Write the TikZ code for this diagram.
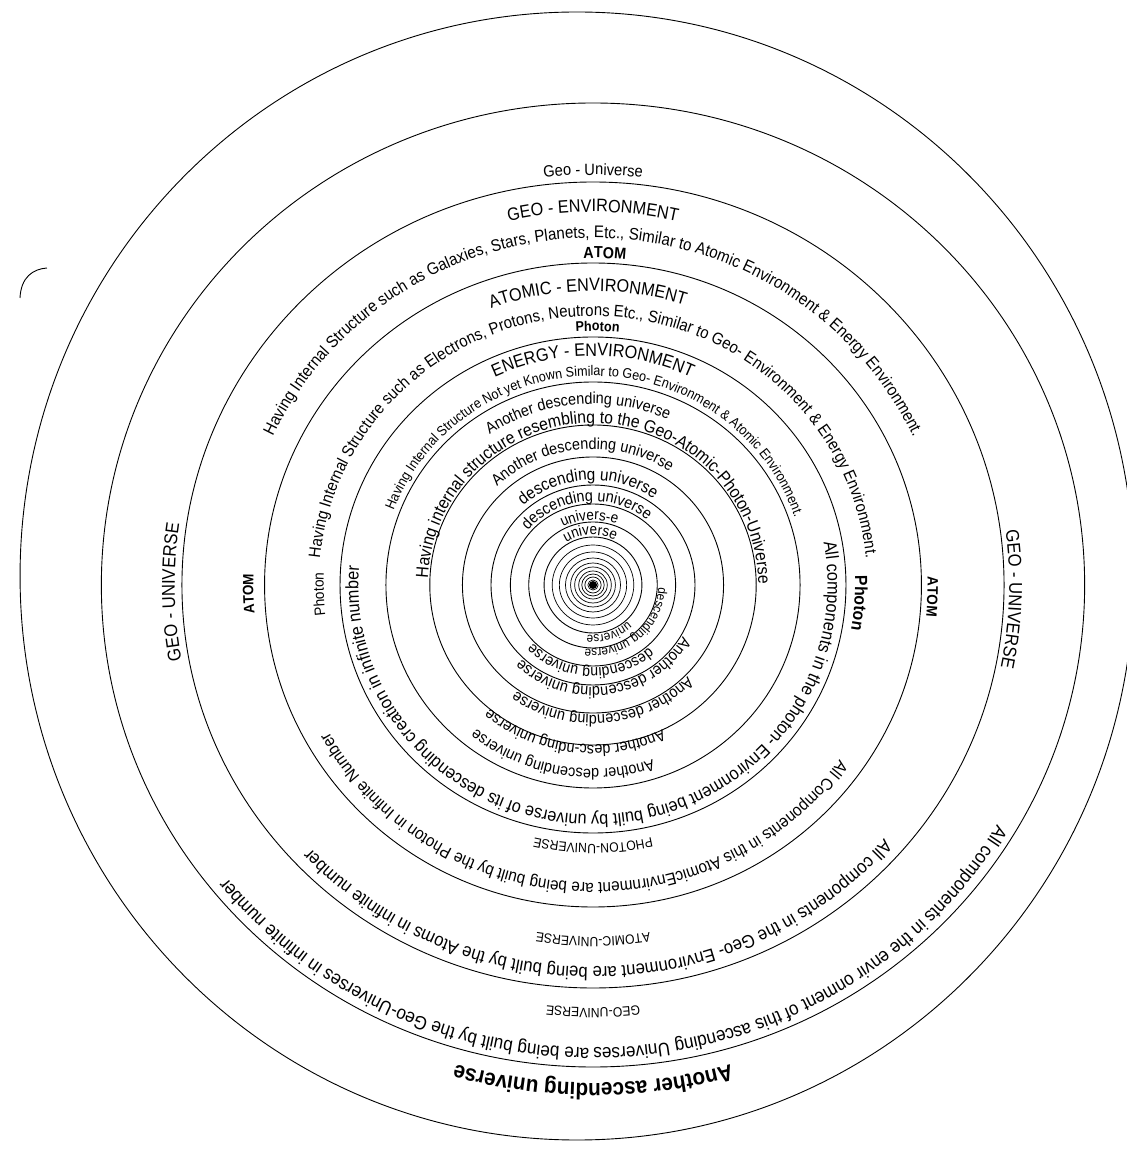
\documentclass[tikz,border=0pt]{standalone}
\usepackage{fontspec}
\setmainfont{Liberation Sans}
\newfontfamily\fr{Liberation Sans}
\newfontfamily\fa[FakeStretch=0.9]{Liberation Sans}
\newfontfamily\fn[FakeStretch=0.8]{Liberation Sans}
\newfontfamily\fb[FakeStretch=0.9]{Liberation Sans Bold}
\usetikzlibrary{decorations.text}
% #1 baseline radius, #2 centre angle, #3 font, #4 size, #5 text
\newcommand\arctext[5]{%
  \path[decorate,decoration={text along path,text align=center,
      text={|#3\fontsize{#4}{#4}\selectfont|#5}}]
    ({#2+175}:#1) arc[start angle={#2+175},end angle={#2-175},radius=#1];}
\begin{document}
\begin{tikzpicture}[x=1pt,y=1pt,line width=0.9pt]
\useasboundingbox[fill=white] (-593,-565) rectangle (533,585);
% small hook mark at the upper left
\coordinate (hookA) at (-546,317);
\coordinate (hookB) at (-573,287);
\draw (hookA) .. controls (-560,316) and (-572,308) .. (hookB);
\begin{scope}[xscale=1.02]
% rings
\draw (-15.7,9) ellipse[x radius=546,y radius=564];
\foreach \r in {482,403,322,248,203,160,128,100,81,63,48}
  \draw (0,0) circle[radius=\r];
\foreach \r in {40,33,27,22,18,14,11,8,5}
  \draw[line width=0.7pt] (0,0) circle[radius=\r];
\fill (0,0) circle[radius=4];
% ---- top band texts
\arctext{410}{90}{\fa}{16.3}{Geo - Universe}
\arctext{373}{90}{\fa}{18}{GEO - ENVIRONMENT}
\arctext{347}{90}{\fa}{16.8}{Having Internal Structure such as Galaxies, Stars, Planets, Etc., Similar to Atomic Environment {\&} Energy Environment.}
\arctext{327}{88}{\fb}{16}{ATOM}
\arctext{294}{91}{\fa}{18}{ATOMIC - ENVIRONMENT}
\arctext{269}{90}{\fa}{16.6}{Having Internal Structure such as Electrons, Protons, Neutrons Etc., Similar to Geo- Environment {\&} Energy Environment.}
\arctext{254}{89}{\fb}{14}{Photon}
\arctext{229}{90}{\fa}{18}{ENERGY - ENVIRONMENT}
\arctext{209}{89}{\fa}{14}{Having Internal Structure Not yet Known  Similar to Geo- Environment {\&} Atomic Environment.}
\arctext{181}{95}{\fa}{16}{Another descending universe}
\arctext{162}{89}{\fa}{17.5}{Having internal structure resembling to the Geo-Atomic-Photon-Universe}
\arctext{136}{95}{\fa}{16}{Another descending universe}
\arctext{105}{93}{\fa}{17}{descending universe}
\arctext{84}{95}{\fa}{16}{descending universe}
\arctext{65}{93}{\fa}{15}{univers-e}
\arctext{50}{93}{\fa}{15}{universe}
% ---- side labels
\arctext{410}{181}{\fa}{18.5}{GEO - UNIVERSE}
\arctext{408}{-2}{\fa}{18.5}{GEO - UNIVERSE}
\arctext{333}{181.5}{\fb}{15}{ATOM}
\arctext{328}{-2}{\fb}{15}{ATOM}
\arctext{264}{182}{\fa}{15}{Photon}
\arctext{257}{-4}{\fb}{17.5}{Photon}
% ---- bottom band texts
\arctext{230}{-87}{\fa}{18}{All components in the photon- Environment being built by universe of its descending creation in infinite number}
\arctext{259}{-90}{\fa}{13.5}{PHOTON-UNIVERSE}
\arctext{298}{-93}{\fa}{17}{All Components in this AtomicEnvirnment  are being built by the Photon in Infinite Number}
\arctext{352}{-90}{\fa}{13.5}{ATOMIC-UNIVERSE}
\arctext{382}{-89}{\fa}{18.5}{All components in the Geo- Environment are being built by the Atoms in infinite number}
\arctext{423}{-90}{\fa}{13.5}{GEO-UNIVERSE}
\arctext{463}{-86}{\fa}{19}{All components in the envir onment of this ascending  Universes are being built by the Geo-Universes in infinite number}
\arctext{498}{-90}{\fb}{23}{Another ascending universe}
% ---- inner bottom
\arctext{50}{-72}{\fa}{13}{universe}
\arctext{64}{-50}{\fa}{13}{descending universe}
\arctext{83}{-92}{\fa}{15.5}{descending universe}
\arctext{102}{-82}{\fa}{16}{Another descending universe}
\arctext{130}{-85}{\fa}{16}{Another descending universe}
\arctext{160}{-97}{\fa}{16}{Another desc-nding universe}
\arctext{184}{-100}{\fa}{16}{Another descending universe}
\end{scope}
\end{tikzpicture}
\end{document}
